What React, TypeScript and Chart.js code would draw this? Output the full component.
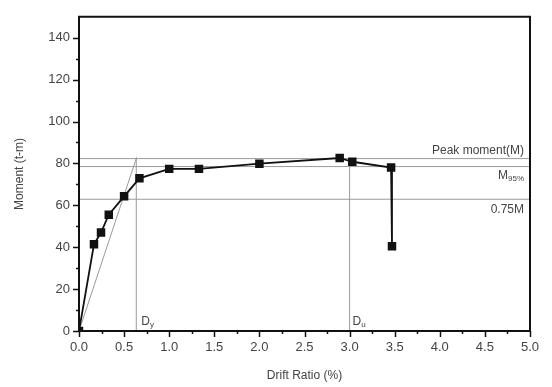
import React, { useEffect, useRef } from "react";
import { Chart, registerables } from "chart.js";

Chart.register(...registerables);

const driftRatio = [0, 0.166, 0.244, 0.33, 0.5, 0.67, 1.0, 1.33, 2.0, 2.89, 3.03, 3.46, 3.47];
const moment = [0, 41.4, 47, 55.5, 64.3, 72.9, 77.4, 77.4, 79.9, 82.6, 80.8, 78.0, 40.5];

const peakMoment = 82.3;
const m95 = 78.5;
const m75 = 62.9;
const dy = 0.635;
const du = 3.0;
const secantEnd = [0.64, 83];

const xTicks = [0, 0.5, 1.0, 1.5, 2.0, 2.5, 3.0, 3.5, 4.0, 4.5, 5.0];
const yTicks = [0, 20, 40, 60, 80, 100, 120, 140];

const refGray = "#9a9a9a";
const textGray = "#444";

const overlay = {
  id: "overlay",
  afterDraw(chart: any) {
    const { ctx, chartArea, scales } = chart;
    const xs = scales.x;
    const ys = scales.y;
    ctx.save();
    ctx.strokeStyle = "#111";
    ctx.lineWidth = 2;
    ctx.beginPath();
    ctx.moveTo(chartArea.left, chartArea.bottom);
    ctx.lineTo(chartArea.left, chartArea.top);
    ctx.lineTo(chartArea.right, chartArea.top);
    ctx.lineTo(chartArea.right, chartArea.bottom);
    ctx.lineTo(chartArea.left, chartArea.bottom);
    ctx.stroke();
    ctx.lineWidth = 1.5;
    for (let v = 0; v <= 140.01; v += 10) {
      const y = Math.round(ys.getPixelForValue(v)) + 0.5;
      const major = Math.abs(v % 20) < 0.01;
      ctx.beginPath();
      ctx.moveTo(chartArea.left, y);
      ctx.lineTo(chartArea.left - (major ? 6 : 3), y);
      ctx.stroke();
    }
    for (let v = 0; v <= 5.001; v += 0.25) {
      const x = Math.round(xs.getPixelForValue(v)) + 0.5;
      const major = Math.abs((v * 2) % 1) < 0.01;
      ctx.beginPath();
      ctx.moveTo(x, chartArea.bottom);
      ctx.lineTo(x, chartArea.bottom + (major ? 6 : 3));
      ctx.stroke();
    }
    ctx.fillStyle = textGray;
    ctx.font = "12px 'Liberation Sans', Arial, sans-serif";
    ctx.textAlign = "right";
    ctx.textBaseline = "bottom";
    const rx = chartArea.right - 6;
    ctx.fillText("Peak moment(M)", rx, ys.getPixelForValue(peakMoment) - 2);
    ctx.textBaseline = "top";
    ctx.fillText("0.75M", rx, ys.getPixelForValue(m75) + 4);
    const myy = ys.getPixelForValue(m95) + 3;
    ctx.font = "8px 'Liberation Sans', Arial, sans-serif";
    const subW = ctx.measureText("95%").width;
    ctx.fillText("95%", rx, myy + 5);
    ctx.font = "12px 'Liberation Sans', Arial, sans-serif";
    ctx.fillText("M", rx - subW, myy);
    ctx.textAlign = "left";
    ctx.textBaseline = "bottom";
    const by = chartArea.bottom - 3;
    const dyx = xs.getPixelForValue(dy) + 5;
    ctx.fillText("D", dyx, by);
    let w = ctx.measureText("D").width;
    ctx.font = "8px 'Liberation Sans', Arial, sans-serif";
    ctx.fillText("y", dyx + w, by + 1);
    ctx.font = "12px 'Liberation Sans', Arial, sans-serif";
    const dux = xs.getPixelForValue(du) + 3;
    ctx.fillText("D", dux, by);
    w = ctx.measureText("D").width;
    ctx.font = "8px 'Liberation Sans', Arial, sans-serif";
    ctx.fillText("u", dux + w, by + 1);
    ctx.restore();
  },
};

function App() {
  const ref = useRef<HTMLCanvasElement | null>(null);
  useEffect(() => {
    if (!ref.current) return;
    const pts = driftRatio.map((x, i) => ({ x, y: moment[i] }));
    const refLine = (data: { x: number; y: number }[]) => ({
      data,
      showLine: true,
      borderColor: refGray,
      borderWidth: 1,
      pointRadius: 0,
      order: 2,
    });
    const chart = new Chart(ref.current, {
      type: "scatter",
      data: {
        datasets: [
          refLine([{ x: 0, y: peakMoment }, { x: 5, y: peakMoment }]),
          refLine([{ x: 0, y: m95 }, { x: 5, y: m95 }]),
          refLine([{ x: 0, y: m75 }, { x: 5, y: m75 }]),
          refLine([{ x: dy, y: 0 }, { x: dy, y: peakMoment }]),
          refLine([{ x: du, y: 0 }, { x: du, y: peakMoment }]),
          refLine([{ x: 0, y: 0 }, { x: secantEnd[0], y: secantEnd[1] }]),
          {
            data: pts,
            showLine: true,
            borderColor: "#111",
            backgroundColor: "#111",
            borderWidth: 1.8,
            pointStyle: "rect",
            pointRadius: 6,
            pointBorderWidth: 0,
            order: 1,
          },
        ],
      },
      options: {
        animation: false,
        responsive: false,
        events: [],
        layout: { padding: { top: 9, right: 22, left: 0, bottom: 0 } },
        plugins: { legend: { display: false }, tooltip: { enabled: false } },
        scales: {
          x: {
            type: "linear",
            min: 0,
            max: 5,
            afterBuildTicks: (s: any) => {
              s.ticks = xTicks.map((v) => ({ value: v }));
            },
            afterFit: (s: any) => {
              s.height = 56;
            },
            grid: { display: false, drawTicks: false },
            border: { display: false },
            ticks: {
              color: textGray,
              padding: 9,
              font: { family: "'Liberation Sans', Arial, sans-serif", size: 13 },
              callback: (v: any) => Number(v).toFixed(1),
              maxRotation: 0,
            },
            title: {
              display: true,
              text: "Drift Ratio (%)",
              color: textGray,
              font: { family: "'Liberation Sans', Arial, sans-serif", size: 12 },
              padding: { top: 11 },
            },
          },
          y: {
            type: "linear",
            min: 0,
            max: 150,
            afterBuildTicks: (s: any) => {
              s.ticks = yTicks.map((v) => ({ value: v }));
            },
            afterFit: (s: any) => {
              s.width = 79;
            },
            grid: { display: false, drawTicks: false },
            border: { display: false },
            ticks: {
              color: textGray,
              padding: 9,
              font: { family: "'Liberation Sans', Arial, sans-serif", size: 13 },
            },
            title: {
              display: true,
              text: "Moment (t-m)",
              color: textGray,
              font: { family: "'Liberation Sans', Arial, sans-serif", size: 12 },
              padding: { top: 12, bottom: 0 },
            },
          },
        },
      },
      plugins: [overlay],
    });
    return () => chart.destroy();
  }, []);
  return (
    <div style={{ position: "fixed", left: 0, top: 0, width: 552, height: 387, background: "#fff" }}>
      <canvas ref={ref} width={552} height={387} style={{ width: 552, height: 387, display: "block" }} />
    </div>
  );
}

export default App;
